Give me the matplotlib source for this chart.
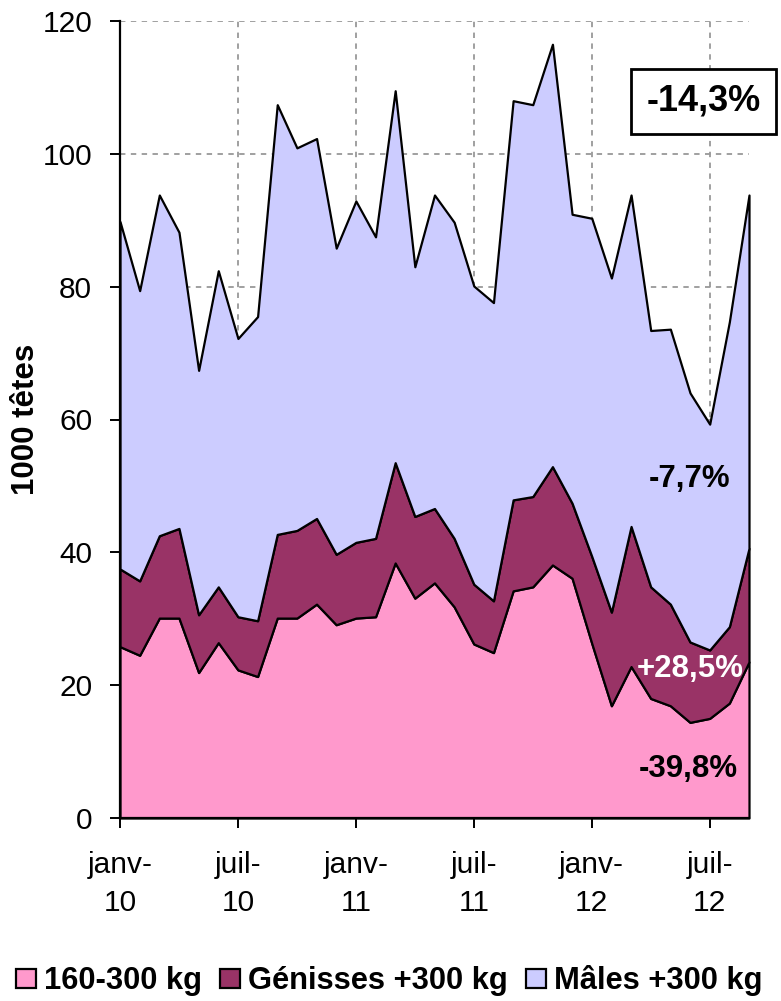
import matplotlib
matplotlib.use('Agg')
import matplotlib.pyplot as plt
import numpy as np

plt.rcParams['font.family'] = ['Liberation Sans', 'DejaVu Sans']

# monthly data, janv-10 .. sept-12 (1000 têtes)
months = list(range(33))
tick_pos = [0, 6, 12, 18, 24, 30]
tick_labels = ['janv-\n10', 'juil-\n10', 'janv-\n11', 'juil-\n11', 'janv-\n12', 'juil-\n12']

veaux = [25.8, 24.5, 30.1, 30.1, 21.9, 26.4, 22.3, 21.3, 30.1, 30.1, 32.2,
         29.1, 30.1, 30.3, 38.4, 33.1, 35.4, 31.8, 26.2, 24.9, 34.2, 34.8,
         38.1, 36.1, 26.3, 16.9, 22.8, 18.0, 16.9, 14.4, 15.0, 17.3, 23.5]
genisses = [11.7, 11.2, 12.4, 13.5, 8.7, 8.4, 8.0, 8.4, 12.6, 13.2, 12.9,
            10.6, 11.4, 11.8, 15.1, 12.3, 11.2, 10.3, 9.0, 7.8, 13.7, 13.6,
            14.8, 11.3, 13.1, 14.1, 21.1, 16.8, 15.3, 12.1, 10.3, 11.5, 17.1]
males = [52.3, 43.7, 51.3, 44.6, 36.8, 47.6, 41.9, 45.8, 64.7, 57.6, 57.2,
         46.1, 51.4, 45.4, 56.0, 37.6, 47.2, 47.6, 44.9, 44.9, 60.1, 59.0,
         63.6, 43.5, 50.9, 50.3, 49.9, 38.6, 41.4, 37.5, 34.0, 45.9, 53.2]

names = ['160-300 kg', 'Génisses +300 kg', 'Mâles +300 kg']
colors = ['#FF99CC', '#993366', '#CCCCFF']

fig = plt.figure(figsize=(7.81, 10.01), dpi=100)
ax = fig.add_axes([120/781, 183/1001, 629/781, 797/1001])

polys = ax.stackplot(months, veaux, genisses, males, labels=names,
                     colors=colors, edgecolor='black', linewidth=1.6)
for p in polys:
    p.set_clip_on(False)

ax.set_xlim(0, 32)
ax.set_ylim(0, 120)
ax.set_yticks(range(0, 121, 20))
ax.set_xticks(tick_pos)
ax.set_xticklabels(tick_labels)
for lab in ax.get_xticklabels():
    lab.set_linespacing(1.45)

ax.set_axisbelow(True)
ax.grid(True, color='#999999', linestyle=(0, (3, 3)), linewidth=1.3)

for s in ['top', 'right']:
    ax.spines[s].set_visible(False)
for s in ['left', 'bottom']:
    ax.spines[s].set_linewidth(1.6)
    ax.spines[s].set_zorder(5)

ax.tick_params(axis='both', direction='out', length=7, width=1.4, labelsize=21.5)
ax.tick_params(axis='y', pad=13)
ax.tick_params(axis='x', pad=17)

ax.set_ylabel('1000 têtes', fontsize=22.5, fontweight='bold')
ax.yaxis.set_label_coords(-0.125, 0.5)

ax.text(29.7, 107.9, '-14,3%', fontsize=26, fontweight='bold', ha='center', va='center',
        bbox=dict(boxstyle='square,pad=0.42', facecolor='white', edgecolor='black', linewidth=2))
ax.text(29.0, 51.1, '-7,7%', fontsize=22.5, fontweight='bold', ha='center', va='center')
ax.text(29.0, 22.4, '+28,5%', fontsize=22.5, fontweight='bold', ha='center', va='center', color='white')
ax.text(28.9, 7.4, '-39,8%', fontsize=22.5, fontweight='bold', ha='center', va='center')

leg = fig.legend(handles=polys, labels=names, loc='center left',
                 bbox_to_anchor=(16/781, 20/1001), ncol=3, frameon=False,
                 prop={'size': 22.2, 'weight': 'bold'}, handlelength=0.65, handleheight=0.6,
                 handletextpad=0.25, columnspacing=0.6, borderpad=0, borderaxespad=0)

fig.savefig('out.png', dpi=100)
